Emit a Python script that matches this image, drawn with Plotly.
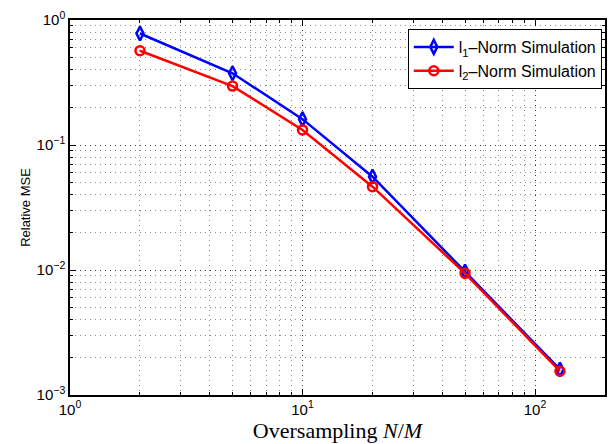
import plotly.graph_objects as go

oversampling = [2, 5, 10, 20, 50, 128]
l1_mse = [0.78, 0.375, 0.161, 0.0558, 0.0097, 0.0016]
l2_mse = [0.568, 0.296, 0.132, 0.0464, 0.0094, 0.00155]
l1_name = "l<sub>1</sub>\u2013Norm Simulation"
l2_name = "l<sub>2</sub>\u2013Norm Simulation"
x_tickvals = [1, 10, 100]
x_ticktext = ["10<sup>0</sup>", "10<sup>1</sup>", "10<sup>2</sup>"]
y_tickvals = [0.001, 0.01, 0.1, 1]
y_ticktext = ["10<sup>\u22123</sup>", "10<sup>\u22122</sup>", "10<sup>\u22121</sup>", "10<sup>0</sup>"]

fig = go.Figure()
fig.add_trace(go.Scatter(x=oversampling, y=l1_mse, mode="lines+markers", name=l1_name,
                         line=dict(color="#0000ff", width=2.5),
                         marker=dict(symbol="diamond-tall-open", size=10, color="#0000ff",
                                     line=dict(width=2.5, color="#0000ff"))))
fig.add_trace(go.Scatter(x=oversampling, y=l2_mse, mode="lines+markers", name=l2_name,
                         line=dict(color="#ff0000", width=2.5),
                         marker=dict(symbol="circle-open", size=9, color="#ff0000",
                                     line=dict(width=2.5, color="#ff0000"))))

axis_common = dict(
    type="log", showline=True, linecolor="black", linewidth=1.5, mirror="allticks",
    ticks="inside", ticklen=6, tickcolor="black", automargin=False,
    showgrid=True, gridcolor="rgba(0,0,0,0.6)", gridwidth=1, griddash="1px,4px",
    zeroline=False,
    tickfont=dict(family="Liberation Sans, Arial", size=15, color="black"),
    minor=dict(dtick="D1", ticks="inside", ticklen=3, tickcolor="black",
               showgrid=True, gridcolor="rgba(0,0,0,0.45)", griddash="1px,4px", gridwidth=1),
)

fig.update_xaxes(**axis_common, range=[0, 2.30103], tickvals=x_tickvals, ticktext=x_ticktext,
                 title=dict(text="Oversampling <i>N</i>/<i>M</i>",
                            font=dict(family="Liberation Serif, Times New Roman", size=22, color="black"),
                            standoff=0))
fig.update_yaxes(**axis_common, range=[-3, 0], tickvals=y_tickvals, ticktext=y_ticktext,
                 title=dict(text="Relative MSE",
                            font=dict(family="Liberation Sans, Arial", size=13, color="black"),
                            standoff=3))

fig.update_layout(
    width=616, height=444,
    margin=dict(l=70, r=11, t=20, b=49),
    plot_bgcolor="white", paper_bgcolor="white",
    showlegend=True,
    legend=dict(x=0.994, y=0.976, xanchor="right", yanchor="top",
                bgcolor="white", bordercolor="black", borderwidth=1,
                font=dict(family="Liberation Sans, Arial", size=16, color="black"),
                tracegroupgap=0, itemwidth=40),
)

fig.write_html("out.html", config={"displayModeBar": False},
               post_script="document.body.style.margin='0';")
